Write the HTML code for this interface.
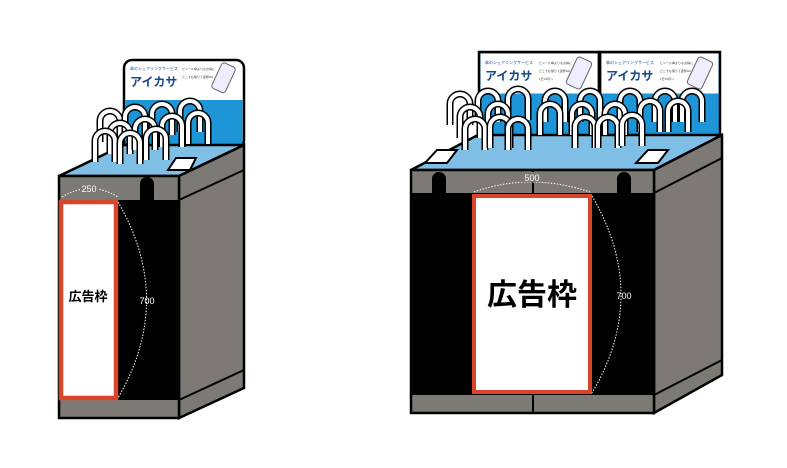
<!DOCTYPE html>
<html><head><meta charset="utf-8"><style>
html,body{margin:0;padding:0;background:#fff;}
svg{display:block}
text{font-family:"Liberation Sans","Noto Sans CJK JP",sans-serif}
</style></head><body>
<svg width="787" height="468" viewBox="0 0 787 468" xmlns="http://www.w3.org/2000/svg">
<defs>
<g id="hook">
<path d="M0 30 V9 A10 10 0 0 1 20 9 V30" fill="none" stroke="#000" stroke-width="7"/>
<path d="M0 30 V9 A10 10 0 0 1 20 9 V30" fill="none" stroke="#fff" stroke-width="4"/>
</g>
<g id="sign">
<rect x="0" y="0" width="120" height="85" fill="#1e95d6" stroke="#000" stroke-width="2.5"/>
<rect x="1.5" y="1.5" width="117" height="40" fill="#fff"/>
<text x="6" y="12" font-size="4" fill="#1a4a8a">傘のシェアリングサービス</text>
<text x="6" y="28" font-size="12" font-weight="bold" fill="#1a4a8a">アイカサ</text>
<text x="60" y="12" font-size="3" fill="#333">ビニール傘よりもお得に</text>
<text x="60" y="20" font-size="3" fill="#333">どこでも借りて返却OK</text>
<text x="60" y="28" font-size="3" fill="#333">1日70円〜</text>
<rect x="92" y="6" width="16" height="30" rx="3" fill="#eef" stroke="#666" transform="rotate(25 100 21)"/>
</g>
</defs>

<!-- LEFT UNIT -->
<rect x="124" y="60" width="120" height="88" rx="8" fill="#fff" stroke="#000" stroke-width="2.5"/>
<rect x="125.5" y="100" width="117" height="46" fill="#1e95d6"/>
<text x="130" y="70" font-size="4" fill="#1a4a8a">傘のシェアリングサービス</text>
<text x="130" y="86" font-size="12" font-weight="bold" fill="#1a4a8a">アイカサ</text>
<text x="182" y="70" font-size="3" fill="#333">ビニール傘よりもお得に</text>
<text x="182" y="78" font-size="3" fill="#333">どこでも借りて返却OK</text>
<rect x="216" y="64" width="15" height="28" rx="3" fill="#eef" stroke="#666" transform="rotate(25 224 78)"/>
<polygon points="59,176 124,145 244,145 179,176" fill="#7fbfe6" stroke="#000" stroke-width="2.5"/>
<g>
<use href="#hook" x="100" y="112"/><use href="#hook" x="125" y="108"/><use href="#hook" x="152" y="105"/><use href="#hook" x="180" y="102"/>
<use href="#hook" x="110" y="124"/><use href="#hook" x="135" y="120"/><use href="#hook" x="162" y="117"/><use href="#hook" x="188" y="114"/>
<use href="#hook" x="95" y="132"/><use href="#hook" x="120" y="134"/><use href="#hook" x="146" y="130"/>
</g>
<polygon points="168,170 176,158 196,158 190,170" fill="#fff" stroke="#000" stroke-width="2"/>
<polygon points="179,176 244,145 244,388 179,418" fill="#7d7975" stroke="#000" stroke-width="2.5"/>
<line x1="179" y1="200" x2="244" y2="170" stroke="#000" stroke-width="2"/>
<line x1="179" y1="400" x2="244" y2="370" stroke="#000" stroke-width="2"/>
<rect x="59" y="176" width="120" height="242" fill="#7d7975" stroke="#000" stroke-width="2.5"/>
<rect x="60" y="200" width="118" height="200" fill="#000"/>
<path d="M140 200 V184 A7 7 0 0 1 154 184 V200 Z" fill="#000"/>
<rect x="61" y="202" width="55" height="196" fill="#fff" stroke="#d9442b" stroke-width="4.5"/>
<text x="88" y="301" font-size="13" font-weight="bold" text-anchor="middle">広告枠</text>
<path d="M62 197 Q90 180 118 197" fill="none" stroke="#fff" stroke-width="1" stroke-dasharray="1.5 1.5"/>
<rect x="80" y="184" width="18" height="9" fill="#7d7975"/>
<text x="89" y="192" font-size="9" fill="#fff" text-anchor="middle">250</text>
<path d="M118 202 Q175 300 118 398" fill="none" stroke="#fff" stroke-width="1" stroke-dasharray="1.5 1.5"/>
<text x="147" y="304" font-size="9" fill="#fff" text-anchor="middle">700</text>

<!-- RIGHT UNIT -->
<use href="#sign" x="479" y="52"/>
<use href="#sign" x="600" y="52"/>
<polygon points="411,170 478,135 722,135 654,170" fill="#7fbfe6" stroke="#000" stroke-width="2.5"/>
<g>
<use href="#hook" x="450" y="95"/><use href="#hook" x="478" y="92"/><use href="#hook" x="508" y="90"/><use href="#hook" x="545" y="92"/><use href="#hook" x="580" y="92"/><use href="#hook" x="620" y="92"/><use href="#hook" x="655" y="92"/><use href="#hook" x="682" y="92"/>
<use href="#hook" x="460" y="108"/><use href="#hook" x="488" y="105"/><use href="#hook" x="540" y="105"/><use href="#hook" x="572" y="105"/><use href="#hook" x="605" y="105"/><use href="#hook" x="640" y="102"/><use href="#hook" x="668" y="102"/>
<use href="#hook" x="465" y="120"/><use href="#hook" x="490" y="118"/><use href="#hook" x="508" y="120"/><use href="#hook" x="575" y="118"/><use href="#hook" x="598" y="118"/><use href="#hook" x="622" y="116"/>
</g>
<polygon points="425,163 437,150 457,150 447,163" fill="#fff" stroke="#000" stroke-width="2"/>
<polygon points="636,163 648,150 668,150 658,163" fill="#fff" stroke="#000" stroke-width="2"/>
<polygon points="654,170 722,135 722,375 654,413" fill="#7d7975" stroke="#000" stroke-width="2.5"/>
<line x1="654" y1="193" x2="722" y2="158" stroke="#000" stroke-width="2"/>
<line x1="654" y1="395" x2="722" y2="360" stroke="#000" stroke-width="2"/>
<rect x="411" y="170" width="243" height="243" fill="#7d7975" stroke="#000" stroke-width="2.5"/>
<line x1="533" y1="170" x2="533" y2="193" stroke="#000" stroke-width="2"/>
<line x1="533" y1="395" x2="533" y2="413" stroke="#000" stroke-width="2"/>
<rect x="412" y="193" width="241" height="202" fill="#000"/>
<path d="M432 193 V179 A7 7 0 0 1 446 179 V193 Z" fill="#000"/>
<path d="M617 193 V179 A7 7 0 0 1 631 179 V193 Z" fill="#000"/>
<rect x="474" y="196" width="116" height="196" fill="#fff" stroke="#d9442b" stroke-width="4"/>
<text x="532" y="305" font-size="30" font-weight="bold" text-anchor="middle">広告枠</text>
<path d="M474 192 Q530 172 590 192" fill="none" stroke="#fff" stroke-width="1" stroke-dasharray="1.5 1.5"/>
<rect x="520" y="172" width="22" height="10" fill="#7d7975"/>
<text x="532" y="181" font-size="9" fill="#fff" text-anchor="middle">500</text>
<path d="M592 196 Q650 295 592 393" fill="none" stroke="#fff" stroke-width="1" stroke-dasharray="1.5 1.5"/>
<text x="624" y="299" font-size="9" fill="#fff" text-anchor="middle">700</text>
</svg>
</body></html>
